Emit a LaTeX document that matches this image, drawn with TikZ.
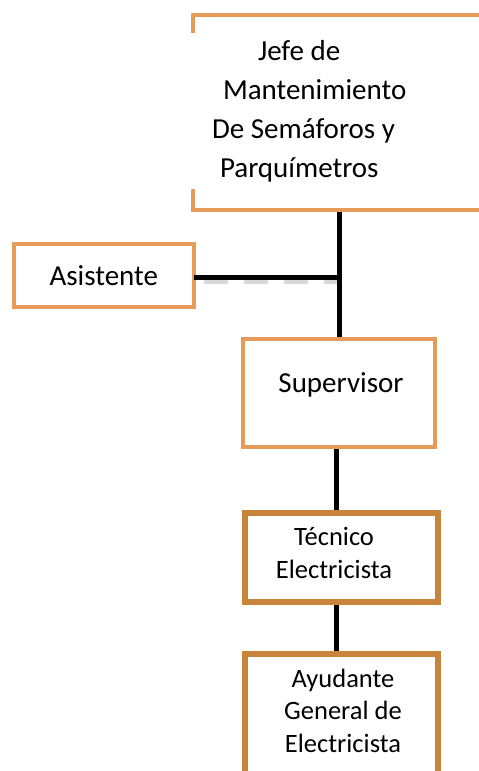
\documentclass[tikz,border=0pt]{standalone}
\usepackage{fontspec}
\setmainfont{Carlito}
\usetikzlibrary{positioning}
\definecolor{boxlight}{RGB}{230,155,88}
\definecolor{boxdark}{RGB}{200,132,58}
\tikzset{
lightbox/.style={draw=boxlight, line width=4pt, fill=white}, % upper boxes
darkbox/.style={draw=boxdark, line width=6pt, fill=white}, % lower boxes
bigtext/.style={font=\fontsize{29}{39}\selectfont, inner sep=0pt, outer sep=0pt}, % text of the upper boxes
smalltext/.style={font=\fontsize{26.5}{32.5}\selectfont, align=center, inner sep=0pt}, % text of the lower boxes
link/.style={line width=5pt}, % black connectors
}
\begin{document}
\begin{tikzpicture}[x=1pt, y=-1pt]
\useasboundingbox (0,0) rectangle (479,771);
\clip (0,0) rectangle (479,771);
% boxes
\node[lightbox, minimum width=320, minimum height=195] (jefe) at (352.5,112.5) {};
\node[lightbox, minimum width=179.5, minimum height=62.5, bigtext, inner sep=0pt] (asis) at (103.75,275.25) {Asistente};
\node[lightbox, minimum width=191.5, minimum height=108] (sup) at (339,393) {};
\node[darkbox, minimum width=193, minimum height=89.5] (tec) at (341.5,557.25) {};
\node[darkbox, minimum width=193, minimum height=146.5] (ayu) at (341.5,726.75) {};
% texts (base = last line)
\node[bigtext, align=left, fill=white, inner xsep=24pt, inner ysep=7pt, anchor=base west] (jefeT) at (188,177)
  {\hspace*{46pt}Jefe de\\\hspace*{11pt}Mantenimiento\\De Semáforos y\\\hspace*{8pt}Parquímetros};
\node[bigtext, anchor=base] (supT) at (341,392) {Supervisor};
\node[smalltext, anchor=base] (tecT) at (334,578) {Técnico\\Electricista};
\node[smalltext, anchor=base] (ayuT) at (343,752) {Ayudante\\General de\\Electricista};
% connectors
\draw[gray!30, line width=4pt, dash pattern=on 24pt off 16pt] ([xshift=10pt, yshift=-7pt]asis.east) -- ([yshift=-7pt]asis.east -| sup.north);
\draw[link] (jefe.south -| sup.north) -- (sup.north);
\draw[link] ([yshift=-2.5pt]asis.east) -- ([yshift=-2.5pt]asis.east -| sup.north);
\draw[link] ([xshift=-3pt]sup.south) -- ([xshift=-3pt]sup.south |- tec.north);
\draw[link] ([xshift=-5.5pt]tec.south) -- ([xshift=-5.5pt]tec.south |- ayu.north);
\end{tikzpicture}
\end{document}
